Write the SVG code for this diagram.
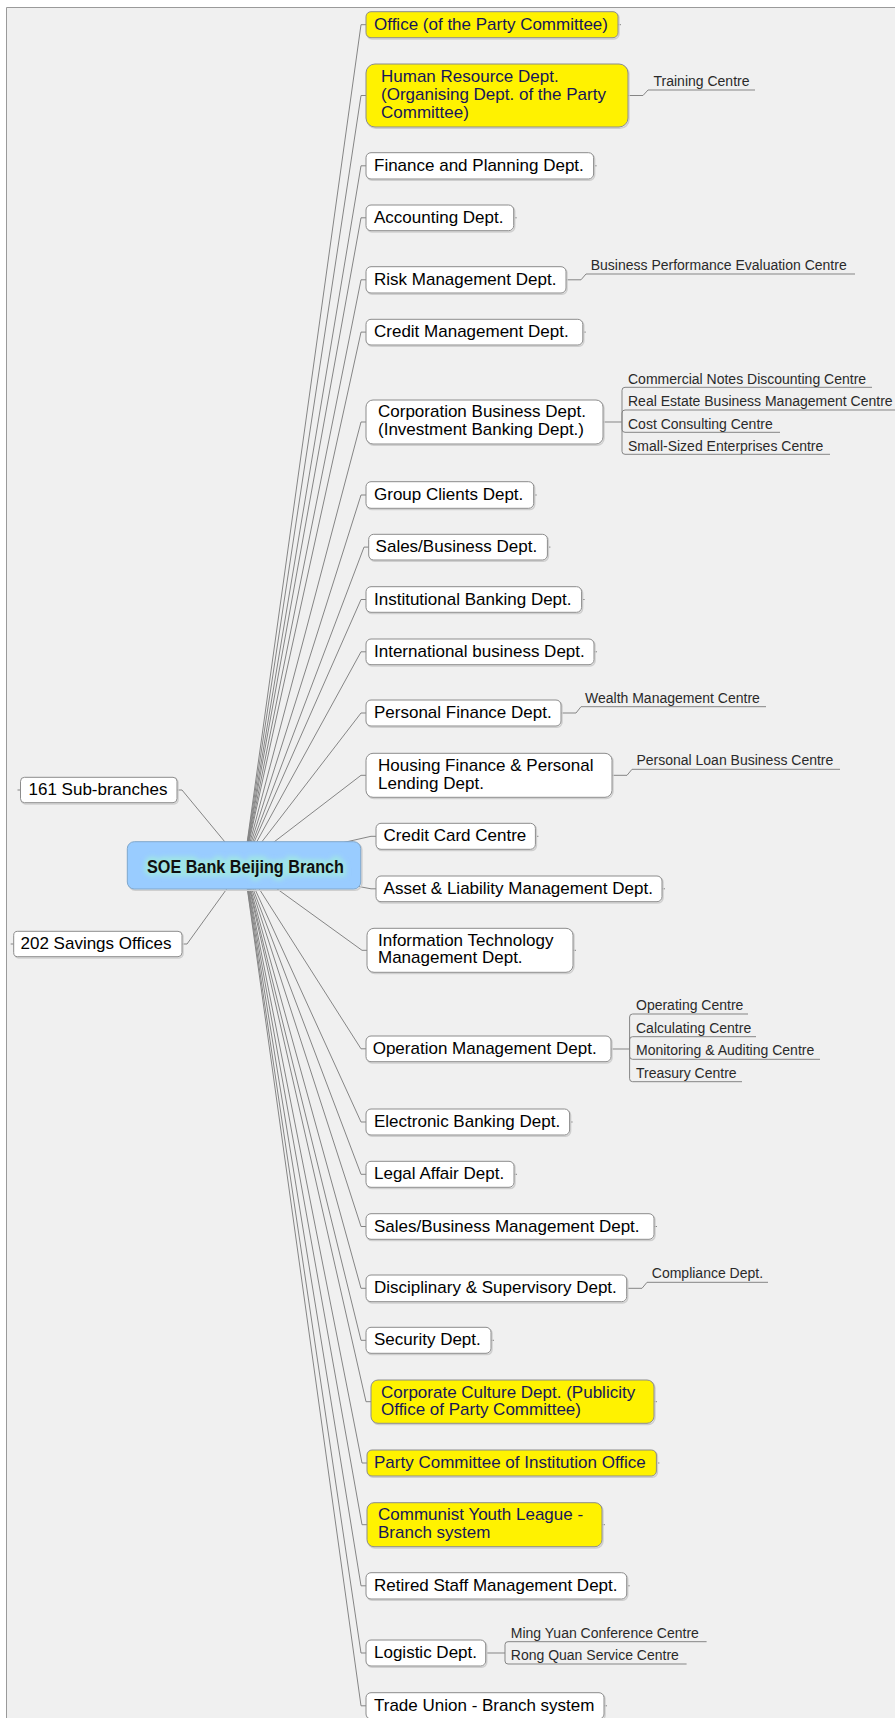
<svg xmlns="http://www.w3.org/2000/svg" width="895" height="1718" viewBox="0 0 895 1718">
  <defs>
    <style>
      .frame { fill: #f0f0f0; stroke: none; }
      .edge { stroke: #9a9a9a; stroke-width: 1; fill: none; }
      .box { fill: #ffffff; stroke: #8c8c8c; stroke-width: 1; }
      .hi { fill: #fff200; }
      .shadow { fill: none; stroke: #cfcfcf; stroke-width: 1.5; }
      .root { fill: #99ccff; stroke: #7fa7cc; stroke-width: 1; }
      .t { font-family: "Liberation Sans", Arial, sans-serif; font-size: 17px; fill: #000000; }
      .th { fill: #16165a; }
      .s { font-family: "Liberation Sans", Arial, sans-serif; font-size: 14px; fill: #2a2a2a; }
      .rt { font-family: "Liberation Sans", Arial, sans-serif; font-size: 17.5px; font-weight: bold; fill: #101010; }
      .c { fill: none; stroke: #858585; stroke-width: 1; }
    </style>
    <filter id="glow" x="-10%" y="-60%" width="120%" height="220%">
      <feGaussianBlur stdDeviation="2.2"/>
    </filter>
  </defs>

  <!-- canvas frame -->
  <rect x="0" y="0" width="895" height="1718" fill="#ffffff"/>
  <rect class="frame" x="6.5" y="7.5" width="889" height="1711"/>
  <path class="edge" d="M6.5 1718V7.5H895"/>

  <!-- connectors -->
  <g id="connectors" class="c">
    <!-- root to departments -->
    <path d="M244 865L361 24.7H366"/>
    <path d="M244 865L361 95.5H366"/>
    <path d="M244 865L361 165.8H366"/>
    <path d="M244 865L361 217.8H366"/>
    <path d="M244 865L361 279.8H366"/>
    <path d="M244 865L361 332.1H366"/>
    <path d="M244 865L361 422H366"/>
    <path d="M244 865L361 495H366"/>
    <path d="M244 865L364 547.1H369"/>
    <path d="M244 865L361 599.5H366"/>
    <path d="M244 865L361 651.8H366"/>
    <path d="M244 865L361 713H366"/>
    <path d="M244 865L361 775.3H366"/>
    <path d="M244 865L371 836.3H376"/>
    <path d="M244 865L371 888.8H376"/>
    <path d="M244 865L362 950.3H367"/>
    <path d="M244 865L361 1048.8H366"/>
    <path d="M244 865L361 1122H366"/>
    <path d="M244 865L361 1174.3H366"/>
    <path d="M244 865L361 1226.5H366"/>
    <path d="M244 865L361 1288.3H366"/>
    <path d="M244 865L361 1340.3H366"/>
    <path d="M244 865L366 1401.7H371"/>
    <path d="M244 865L362 1463H367"/>
    <path d="M244 865L362 1524.7H367"/>
    <path d="M244 865L361 1585.8H366"/>
    <path d="M244 865L361 1653H366"/>
    <path d="M244 865L361 1705.8H366"/>
    <!-- root to left-hand nodes -->
    <path d="M244 865L182 790H177"/>
    <path d="M244 865L187 944H182"/>
    <!-- outer stubs -->
    <path d="M20.5 790h-3M13.7 944h-3"/>
    <path d="M618 24.7h3M593.6 165.8h3M513.7 217.8h3M582.8 332.1h3M533.7 495h3M547.4 547.1h3M581.6 599.5h3M594 651.8h3M535.4 836.3h3M662 888.8h3M573 950.3h3M569.6 1122h3M514 1174.3h3M654 1226.5h3M491 1340.3h3M654 1401.7h3M656.4 1463h3M602 1524.7h3M626.7 1585.8h3M604 1705.8h3"/>
    <!-- single sub-units -->
    <path d="M628 95.5H643L648 90H755"/>
    <path d="M566 279.8H581L586 274H855"/>
    <path d="M561 713H576L581 706.7H766"/>
    <path d="M612 775.3H627L632 769.3H840"/>
    <path d="M626.7 1288.3H642L647 1282.3H768"/>
    <!-- Corporation Business sub-units -->
    <path d="M603 422H622"/>
    <path d="M622 422V390.3Q622 387.3 625 387.3H872"/>
    <path d="M622 422V413Q622 410 625 410H895"/>
    <path d="M622 422V429.3Q622 432.3 625 432.3H780"/>
    <path d="M622 422V451.3Q622 454.3 625 454.3H830"/>
    <!-- Operation Management sub-units -->
    <path d="M611 1049H629.6"/>
    <path d="M629.6 1049V1017Q629.6 1014 632.6 1014H748"/>
    <path d="M629.6 1049V1039.7Q629.6 1036.7 632.6 1036.7H756"/>
    <path d="M629.6 1049V1056.3Q629.6 1059.3 632.6 1059.3H820"/>
    <path d="M629.6 1049V1078.7Q629.6 1081.7 632.6 1081.7H742"/>
    <!-- Logistic sub-units -->
    <path d="M485.7 1653H505"/>
    <path d="M505 1653V1644.7Q505 1641.7 508 1641.7H706.6"/>
    <path d="M505 1653V1661Q505 1664 508 1664H686.6"/>
  </g>

  <!-- central node -->
  <g id="root">
    <rect class="shadow" x="128.5" y="843" width="233.4" height="47.3" rx="7"/>
    <rect class="root" x="127.3" y="841.7" width="233.4" height="47.3" rx="7"/>
    <text class="rt" x="245.5" y="872.5" text-anchor="middle" textLength="197" lengthAdjust="spacingAndGlyphs" stroke="#9fe4e6" stroke-width="7" fill="#9fe4e6" filter="url(#glow)">SOE Bank Beijing Branch</text>
    <text class="rt" x="245.5" y="872.5" text-anchor="middle" textLength="197" lengthAdjust="spacingAndGlyphs">SOE Bank Beijing Branch</text>
  </g>

  <!-- left-hand nodes -->
  <g id="n-subbranches">
    <rect class="shadow" x="21.5" y="778.5" width="156.5" height="25.4" rx="4"/>
    <rect class="box" x="20.5" y="777.3" width="156.5" height="25.4" rx="4"/>
    <text class="t" x="28.5" y="795">161 Sub-branches</text>
  </g>
  <g id="n-savings">
    <rect class="shadow" x="14.7" y="932.5" width="168.3" height="25.4" rx="4"/>
    <rect class="box" x="13.7" y="931.3" width="168.3" height="25.4" rx="4"/>
    <text class="t" x="20.5" y="949">202 Savings Offices</text>
  </g>

  <!-- departments -->
  <g id="n-office">
    <rect class="shadow" x="367" y="13" width="252" height="26" rx="5"/>
    <rect class="box hi" x="366" y="11.7" width="252" height="26" rx="5"/>
    <text class="t th" x="374" y="29.7">Office (of the Party Committee)</text>
  </g>
  <g id="n-hr">
    <rect class="shadow" x="367" y="65.3" width="262" height="63" rx="9"/>
    <rect class="box hi" x="366" y="64" width="262" height="63" rx="9"/>
    <text class="t th" x="381" y="82">Human Resource Dept.</text>
    <text class="t th" x="381" y="100">(Organising Dept. of the Party</text>
    <text class="t th" x="381" y="118">Committee)</text>
  </g>
  <g id="n-training">
    <text class="s" x="653.5" y="86">Training Centre</text>
  </g>
  <g id="n-finance">
    <rect class="shadow" x="367" y="154" width="227.6" height="26.3" rx="5"/>
    <rect class="box" x="366" y="152.7" width="227.6" height="26.3" rx="5"/>
    <text class="t" x="374" y="171">Finance and Planning Dept.</text>
  </g>
  <g id="n-accounting">
    <rect class="shadow" x="367" y="206.3" width="147.7" height="25.7" rx="5"/>
    <rect class="box" x="366" y="205" width="147.7" height="25.7" rx="5"/>
    <text class="t" x="374" y="223">Accounting Dept.</text>
  </g>
  <g id="n-risk">
    <rect class="shadow" x="367" y="268" width="200" height="26.3" rx="5"/>
    <rect class="box" x="366" y="266.7" width="200" height="26.3" rx="5"/>
    <text class="t" x="374" y="285">Risk Management Dept.</text>
  </g>
  <g id="n-bpec">
    <text class="s" x="590.7" y="270">Business Performance Evaluation Centre</text>
  </g>
  <g id="n-credit">
    <rect class="shadow" x="367" y="320.6" width="216.8" height="25.7" rx="5"/>
    <rect class="box" x="366" y="319.3" width="216.8" height="25.7" rx="5"/>
    <text class="t" x="374" y="337">Credit Management Dept.</text>
  </g>
  <g id="n-corporation">
    <rect class="shadow" x="367" y="401.3" width="237" height="44" rx="7"/>
    <rect class="box" x="366" y="400" width="237" height="44" rx="7"/>
    <text class="t" x="378" y="417">Corporation Business Dept.</text>
    <text class="t" x="378" y="435">(Investment Banking Dept.)</text>
  </g>
  <g id="n-corp-subs">
    <text class="s" x="628" y="383.5">Commercial Notes Discounting Centre</text>
    <text class="s" x="628" y="406">Real Estate Business Management Centre</text>
    <text class="s" x="628" y="428.5">Cost Consulting Centre</text>
    <text class="s" x="628" y="450.5">Small-Sized Enterprises Centre</text>
  </g>
  <g id="n-group">
    <rect class="shadow" x="367" y="483" width="167.7" height="26.6" rx="5"/>
    <rect class="box" x="366" y="481.7" width="167.7" height="26.6" rx="5"/>
    <text class="t" x="374" y="500">Group Clients Dept.</text>
  </g>
  <g id="n-sales">
    <rect class="shadow" x="369.7" y="535.6" width="178.7" height="25.7" rx="5"/>
    <rect class="box" x="368.7" y="534.3" width="178.7" height="25.7" rx="5"/>
    <text class="t" x="375.6" y="552">Sales/Business Dept.</text>
  </g>
  <g id="n-institutional">
    <rect class="shadow" x="367" y="588" width="215.6" height="25.6" rx="5"/>
    <rect class="box" x="366" y="586.7" width="215.6" height="25.6" rx="5"/>
    <text class="t" x="374" y="604.5">Institutional Banking Dept.</text>
  </g>
  <g id="n-international">
    <rect class="shadow" x="367" y="640.3" width="228" height="25.7" rx="5"/>
    <rect class="box" x="366" y="639" width="228" height="25.7" rx="5"/>
    <text class="t" x="374" y="657">International business Dept.</text>
  </g>
  <g id="n-personal">
    <rect class="shadow" x="367" y="701.3" width="195" height="26" rx="5"/>
    <rect class="box" x="366" y="700" width="195" height="26" rx="5"/>
    <text class="t" x="374" y="718">Personal Finance Dept.</text>
  </g>
  <g id="n-wealth">
    <text class="s" x="585" y="702.7">Wealth Management Centre</text>
  </g>
  <g id="n-housing">
    <rect class="shadow" x="367" y="754.6" width="246" height="44" rx="7"/>
    <rect class="box" x="366" y="753.3" width="246" height="44" rx="7"/>
    <text class="t" x="378" y="770.7">Housing Finance &amp; Personal</text>
    <text class="t" x="378" y="789">Lending Dept.</text>
  </g>
  <g id="n-loan">
    <text class="s" x="636.4" y="765.3">Personal Loan Business Centre</text>
  </g>
  <g id="n-card">
    <rect class="shadow" x="377" y="824.6" width="159.4" height="26" rx="5"/>
    <rect class="box" x="376" y="823.3" width="159.4" height="26" rx="5"/>
    <text class="t" x="383.6" y="841.3">Credit Card Centre</text>
  </g>
  <g id="n-asset">
    <rect class="shadow" x="377" y="877.3" width="286" height="25.7" rx="5"/>
    <rect class="box" x="376" y="876" width="286" height="25.7" rx="5"/>
    <text class="t" x="383.6" y="894">Asset &amp; Liability Management Dept.</text>
  </g>
  <g id="n-it">
    <rect class="shadow" x="368" y="929.6" width="206" height="44" rx="7"/>
    <rect class="box" x="367" y="928.3" width="206" height="44" rx="7"/>
    <text class="t" x="378" y="945.7">Information Technology</text>
    <text class="t" x="378" y="963.3">Management Dept.</text>
  </g>
  <g id="n-operation">
    <rect class="shadow" x="367" y="1037.3" width="245" height="25.7" rx="5"/>
    <rect class="box" x="366" y="1036" width="245" height="25.7" rx="5"/>
    <text class="t" x="372.7" y="1054">Operation Management Dept.</text>
  </g>
  <g id="n-op-subs">
    <text class="s" x="636" y="1010">Operating Centre</text>
    <text class="s" x="636" y="1032.7">Calculating Centre</text>
    <text class="s" x="636" y="1055.3">Monitoring &amp; Auditing Centre</text>
    <text class="s" x="636" y="1077.7">Treasury Centre</text>
  </g>
  <g id="n-ebank">
    <rect class="shadow" x="367" y="1110.3" width="203.6" height="26" rx="5"/>
    <rect class="box" x="366" y="1109" width="203.6" height="26" rx="5"/>
    <text class="t" x="374" y="1127">Electronic Banking Dept.</text>
  </g>
  <g id="n-legal">
    <rect class="shadow" x="367" y="1162.6" width="148" height="26" rx="5"/>
    <rect class="box" x="366" y="1161.3" width="148" height="26" rx="5"/>
    <text class="t" x="374" y="1179.3">Legal Affair Dept.</text>
  </g>
  <g id="n-salesmgmt">
    <rect class="shadow" x="367" y="1215" width="288" height="25.6" rx="5"/>
    <rect class="box" x="366" y="1213.7" width="288" height="25.6" rx="5"/>
    <text class="t" x="374" y="1231.5">Sales/Business Management Dept.</text>
  </g>
  <g id="n-disciplinary">
    <rect class="shadow" x="367" y="1276.3" width="260.7" height="26.7" rx="5"/>
    <rect class="box" x="366" y="1275" width="260.7" height="26.7" rx="5"/>
    <text class="t" x="374" y="1293.3">Disciplinary &amp; Supervisory Dept.</text>
  </g>
  <g id="n-compliance">
    <text class="s" x="651.8" y="1278.3">Compliance Dept.</text>
  </g>
  <g id="n-security">
    <rect class="shadow" x="367" y="1328.6" width="125" height="26" rx="5"/>
    <rect class="box" x="366" y="1327.3" width="125" height="26" rx="5"/>
    <text class="t" x="374" y="1345.3">Security Dept.</text>
  </g>
  <g id="n-culture">
    <rect class="shadow" x="372" y="1381.3" width="283" height="43.3" rx="7"/>
    <rect class="box hi" x="371" y="1380" width="283" height="43.3" rx="7"/>
    <text class="t th" x="381" y="1397.7">Corporate Culture Dept. (Publicity</text>
    <text class="t th" x="381" y="1415">Office of Party Committee)</text>
  </g>
  <g id="n-party-inst">
    <rect class="shadow" x="368" y="1451.3" width="289.4" height="26" rx="5"/>
    <rect class="box hi" x="367" y="1450" width="289.4" height="26" rx="5"/>
    <text class="t th" x="374" y="1468">Party Committee of Institution Office</text>
  </g>
  <g id="n-youth">
    <rect class="shadow" x="368" y="1504" width="235" height="44" rx="7"/>
    <rect class="box hi" x="367" y="1502.7" width="235" height="44" rx="7"/>
    <text class="t th" x="378" y="1520">Communist Youth League -</text>
    <text class="t th" x="378" y="1538.3">Branch system</text>
  </g>
  <g id="n-retired">
    <rect class="shadow" x="367" y="1574" width="260.7" height="26.3" rx="5"/>
    <rect class="box" x="366" y="1572.7" width="260.7" height="26.3" rx="5"/>
    <text class="t" x="374" y="1590.8">Retired Staff Management Dept.</text>
  </g>
  <g id="n-logistic">
    <rect class="shadow" x="367" y="1641.3" width="119.7" height="26" rx="5"/>
    <rect class="box" x="366" y="1640" width="119.7" height="26" rx="5"/>
    <text class="t" x="374" y="1658">Logistic Dept.</text>
  </g>
  <g id="n-logistic-subs">
    <text class="s" x="510.8" y="1637.7">Ming Yuan Conference Centre</text>
    <text class="s" x="510.8" y="1660">Rong Quan Service Centre</text>
  </g>
  <g id="n-union">
    <rect class="shadow" x="367" y="1694" width="238" height="26.3" rx="5"/>
    <rect class="box" x="366" y="1692.7" width="238" height="26.3" rx="5"/>
    <text class="t" x="374" y="1710.8">Trade Union - Branch system</text>
  </g>
</svg>
